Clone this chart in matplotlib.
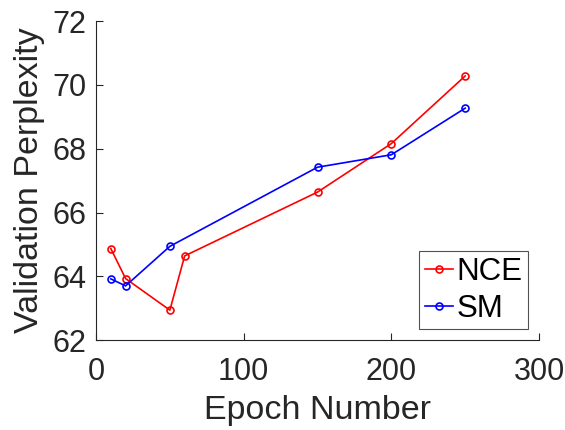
import matplotlib
matplotlib.use("Agg")
import matplotlib.pyplot as plt

epochs_nce = [10, 20, 50, 60, 150, 200, 250]
ppl_nce = [64.87, 63.93, 62.94, 64.64, 66.64, 68.16, 70.28]
epochs_sm = [10, 20, 50, 150, 200, 250]
ppl_sm = [63.92, 63.70, 64.94, 67.42, 67.81, 69.27]
xticks = [0, 100, 200, 300]
yticks = [62, 64, 66, 68, 70, 72]

plt.rcParams['font.family'] = ['Liberation Sans', 'DejaVu Sans']

fig = plt.figure(figsize=(5.65, 4.3), dpi=100)
ax = fig.add_axes([0.170, 0.209, 0.784, 0.742])

ax.plot(epochs_nce, ppl_nce, color='#ff0000', lw=1.2, marker='o', ms=5,
        mfc='none', mec='#ff0000', mew=1.2, label='NCE')
ax.plot(epochs_sm, ppl_sm, color='#0000ff', lw=1.2, marker='o', ms=5,
        mfc='none', mec='#0000ff', mew=1.2, label='SM')

ax.set_xlim(0, 300)
ax.set_ylim(62, 72)
ax.set_xticks(xticks)
ax.set_yticks(yticks)
ax.spines['top'].set_visible(False)
ax.spines['right'].set_visible(False)
for s in ['left', 'bottom']:
    ax.spines[s].set_color('#262626')
    ax.spines[s].set_linewidth(0.8)
ax.tick_params(direction='in', length=5, width=0.8, colors='#262626',
               labelsize=22, labelcolor='#262626')
ax.tick_params(axis='x', pad=12)
ax.tick_params(axis='y', pad=7)
ax.set_xlabel('Epoch Number', fontsize=24.5, color='#262626', labelpad=6)
ax.set_ylabel('Validation Perplexity', fontsize=24.5, color='#262626', labelpad=5)

leg = ax.legend(loc='lower right', bbox_to_anchor=(0.975, 0.034), fontsize=22.5,
                frameon=True, fancybox=False, handlelength=0.9,
                handletextpad=0.1, borderpad=0.18, labelspacing=0.22,
                borderaxespad=0)
leg.get_frame().set_edgecolor('#262626')
leg.get_frame().set_linewidth(0.8)

fig.savefig('out.png', dpi=100)
